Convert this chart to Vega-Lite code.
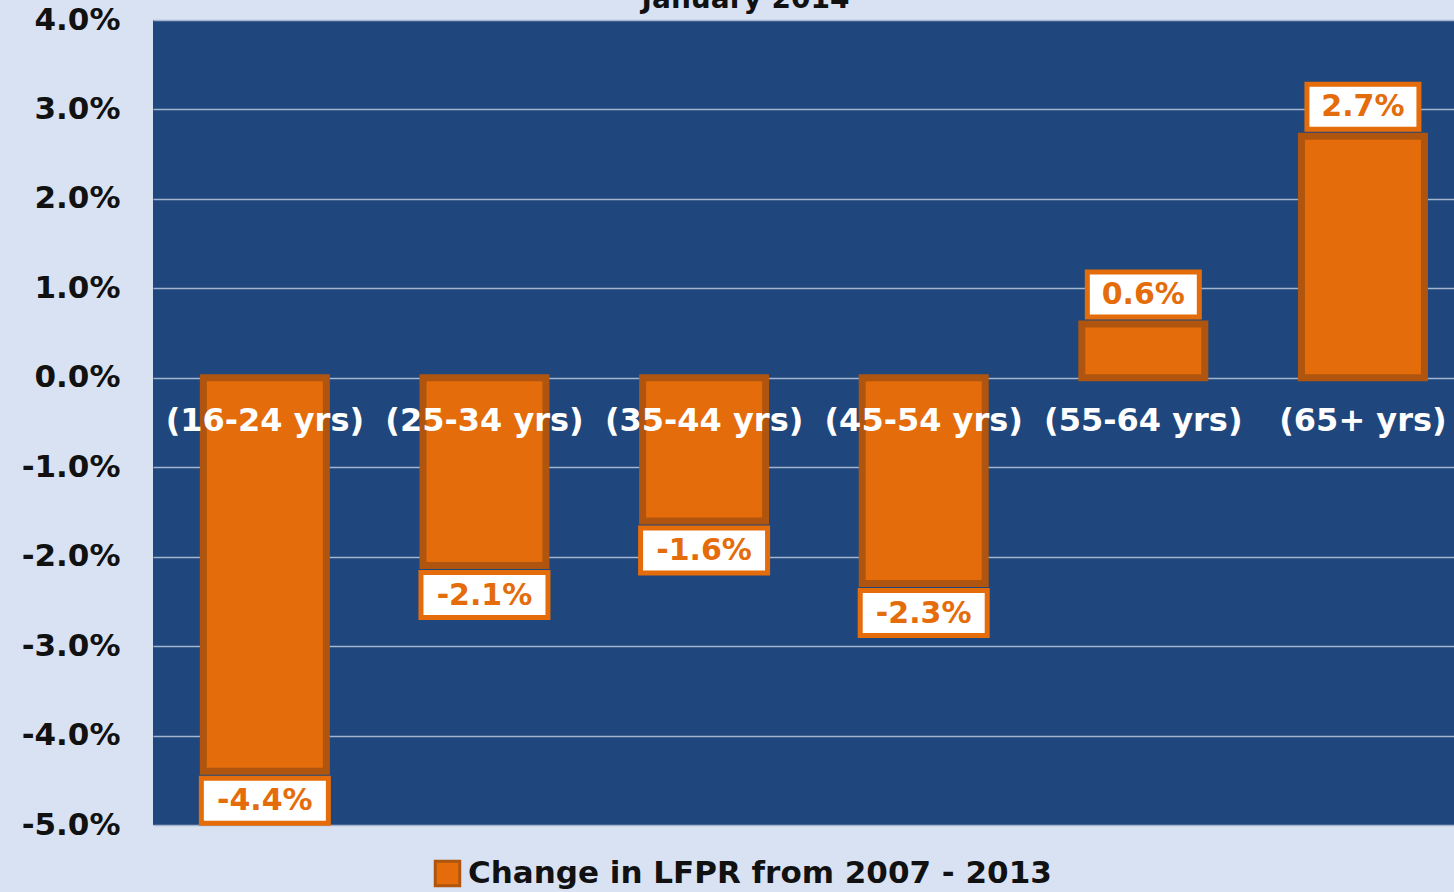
{
  "$schema": "https://vega.github.io/schema/vega-lite/v6.json",
  "width": 1301,
  "height": 805,
  "autosize": {"type": "none"},
  "padding": {"left": 153, "top": 20, "right": 0, "bottom": 67},
  "background": "#D9E2F3",
  "config": {
    "view": {"fill": "#1F477D", "stroke": null},
    "font": "DejaVu Sans",
    "locale": {"number": {"decimal": ".", "thousands": ",", "grouping": [3], "currency": ["$", ""], "minus": "-"}}
  },
  "title": {"text": "January 2014", "fontSize": 28, "fontWeight": "bold", "color": "#111111", "offset": 0, "baseline": "alphabetic", "dy": 32, "dx": -58, "anchor": "middle", "font": "DejaVu Sans"},
  "data": {
    "values": [
      {"age": "(16-24 yrs)", "change": -0.044},
      {"age": "(25-34 yrs)", "change": -0.021},
      {"age": "(35-44 yrs)", "change": -0.016},
      {"age": "(45-54 yrs)", "change": -0.023},
      {"age": "(55-64 yrs)", "change": 0.006},
      {"age": "(65+ yrs)", "change": 0.027}
    ]
  },
  "encoding": {
    "x": {"field": "age", "type": "nominal", "sort": null, "axis": null,
          "scale": {"paddingInner": 0.44, "paddingOuter": 0.182, "align": 0.63}}
  },
  "layer": [
    {
      "mark": {"type": "bar", "stroke": "#B0550F", "strokeWidth": 7},
      "encoding": {
        "y": {"field": "change", "type": "quantitative",
              "scale": {"domain": [-0.05, 0.04], "nice": false, "zero": false},
              "axis": {"format": ".1%", "values": [-0.05, -0.04, -0.03, -0.02, -0.01, 0, 0.01, 0.02, 0.03, 0.04],
                       "domain": false, "ticks": false, "labelPadding": 33, "labelFontSize": 31,
                       "labelFontWeight": "bold", "labelColor": "#111111", "labelFont": "DejaVu Sans",
                       "grid": true, "gridColor": "#A3B5CF", "gridWidth": 1.5, "title": null}},
        "color": {"datum": "Change in LFPR from 2007 - 2013", "type": "nominal",
                  "scale": {"range": ["#E46C0A"]},
                  "legend": {"orient": "none", "legendX": 279, "legendY": 838, "title": null,
                             "symbolType": "square", "symbolSize": 600, "symbolStrokeColor": "#B0550F",
                             "symbolStrokeWidth": 3, "labelFontSize": 31, "labelFontWeight": "bold",
                             "labelColor": "#111111", "labelFont": "DejaVu Sans", "labelOffset": 5,
                             "labelLimit": 800}}
      }
    },
    {
      "mark": {"type": "text", "color": "#FFFFFF", "fontSize": 32, "fontWeight": "bold", "dy": 43, "baseline": "middle", "align": "center"},
      "encoding": {
        "y": {"datum": 0, "type": "quantitative"},
        "text": {"field": "age"}
      }
    },
    {
      "transform": [{"filter": "datum.change < 0"}],
      "mark": {"type": "bar", "width": 127, "fill": "#FFFFFF", "stroke": "#E46C0A", "strokeWidth": 5, "yOffset": 7, "y2Offset": 52},
      "encoding": {
        "y": {"field": "change", "type": "quantitative"},
        "y2": {"field": "change"}
      }
    },
    {
      "transform": [{"filter": "datum.change > 0"}],
      "mark": {"type": "bar", "width": 112, "fill": "#FFFFFF", "stroke": "#E46C0A", "strokeWidth": 5, "yOffset": -52, "y2Offset": -7},
      "encoding": {
        "y": {"field": "change", "type": "quantitative"},
        "y2": {"field": "change"}
      }
    },
    {
      "transform": [{"filter": "datum.change < 0"}],
      "mark": {"type": "text", "color": "#E46C0A", "fontSize": 30, "fontWeight": "bold", "dy": 30, "baseline": "middle", "align": "center"},
      "encoding": {
        "y": {"field": "change", "type": "quantitative"},
        "text": {"field": "change", "format": ".1%"}
      }
    },
    {
      "transform": [{"filter": "datum.change > 0"}],
      "mark": {"type": "text", "color": "#E46C0A", "fontSize": 30, "fontWeight": "bold", "dy": -29, "baseline": "middle", "align": "center"},
      "encoding": {
        "y": {"field": "change", "type": "quantitative"},
        "text": {"field": "change", "format": ".1%"}
      }
    }
  ]
}
